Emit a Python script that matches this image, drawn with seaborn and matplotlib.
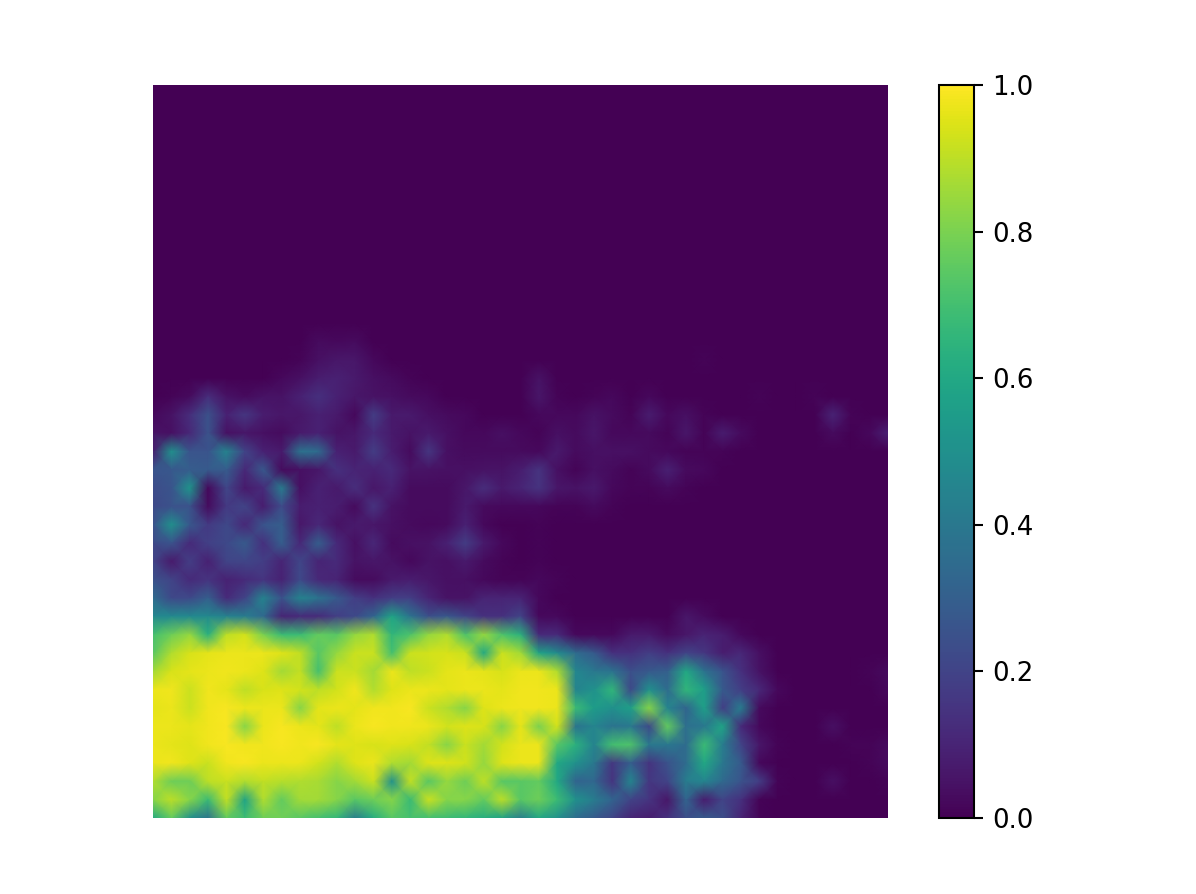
import numpy as np
import matplotlib
matplotlib.use("Agg")
import matplotlib.pyplot as plt
import seaborn as sns

# Values in hundredths. Rows 0-13 are all zero.
blank_rows = 14
left_half = [  # columns 0-20, rows 14-40
 [0,0,0,0,0,0,0,0,0,3,2,3,0,0,0,0,0,0,0,0,0],
 [0,0,0,0,0,0,0,0,1,4,6,6,2,0,0,0,0,0,0,0,0],
 [0,0,0,0,0,0,0,2,4,8,9,7,4,3,1,0,0,0,0,0,0],
 [0,1,3,13,5,3,5,5,9,14,9,6,5,4,3,2,0,0,0,0,0],
 [2,5,13,25,9,16,8,6,6,9,7,2,18,7,7,4,3,2,0,0,0],
 [5,4,11,25,4,6,4,3,7,9,5,6,12,7,5,7,4,2,2,4,2],
 [8,50,26,26,45,20,9,7,38,35,9,7,18,8,3,16,4,3,3,3,3],
 [26,27,29,28,29,11,27,3,4,6,14,10,9,12,5,5,4,4,5,5,8],
 [23,26,52,2,21,7,12,42,4,9,7,13,6,9,3,3,3,6,13,7,10],
 [22,25,25,3,17,20,8,23,8,9,8,3,15,5,3,3,3,7,3,2,2],
 [25,50,27,17,22,11,26,30,6,11,5,7,6,4,3,2,3,9,2,0,0],
 [22,26,12,19,22,28,14,30,11,30,12,4,11,3,4,5,9,18,7,2,0],
 [20,7,18,9,20,21,18,10,21,10,12,5,6,5,2,5,4,7,3,1,0],
 [25,20,12,15,9,12,15,9,22,11,10,3,3,7,8,6,4,4,2,1,1],
 [35,22,22,30,12,20,45,25,45,38,28,18,14,18,18,10,5,5,10,10,10],
 [47,47,47,47,44,42,34,10,12,12,18,22,32,58,38,24,27,20,14,14,20],
 [70,78,84,64,90,93,80,68,68,76,74,84,88,66,72,84,88,72,84,72,64],
 [74,88,94,96,97,97,97,95,91,74,84,92,92,70,92,93,94,92,60,92,86],
 [86,94,96,97,98,97,95,86,91,70,92,92,86,97,90,92,96,97,96,94,97],
 [97,98,92,98,96,90,94,95,93,90,93,98,88,95,97,97,96,97,97,96,98],
 [96,97,92,98,99,97,97,97,82,96,97,96,98,98,99,92,88,82,95,97,98],
 [97,97,96,98,99,82,97,99,97,96,90,97,99,98,98,97,93,95,94,82,96],
 [97,96,95,98,99,98,98,99,98,99,96,95,94,95,94,91,82,92,86,93,97],
 [97,98,95,92,98,99,97,97,97,93,88,95,97,88,86,95,95,93,84,95,97],
 [88,78,78,90,92,88,91,89,88,87,82,86,92,50,91,74,84,78,90,74,74],
 [82,90,82,68,91,58,88,76,86,86,82,74,78,82,68,92,82,82,76,90,74],
 [60,76,50,38,76,68,78,78,74,70,66,42,62,74,70,70,68,66,62,58,42],
]
right_half = [  # columns 21-40, rows 14-40
 [0,0,0,0,0,0,0,0,0,0,0,0,0,0,0,0,0,0,0,0],
 [0,0,0,0,0,0,0,0,0,1,0,0,0,0,0,0,0,0,0,0],
 [5,0,0,0,0,0,0,0,0,0,0,0,0,0,0,0,0,0,0,0],
 [6,1,0,1,2,0,2,0,0,0,0,0,1,0,0,1,0,0,0,0],
 [2,2,2,5,3,1,8,2,4,1,0,0,0,0,0,0,10,1,0,0],
 [1,4,3,6,2,2,3,1,6,1,8,3,0,0,0,0,3,0,2,9],
 [2,7,3,4,4,4,3,2,1,1,1,0,0,0,0,0,0,0,0,0],
 [15,4,1,4,3,1,3,9,3,2,0,0,0,0,0,0,0,0,0,0],
 [15,6,5,7,2,1,1,3,1,0,0,0,0,0,0,0,0,0,0,0],
 [2,1,1,3,1,0,0,0,0,0,0,0,0,0,0,0,0,0,0,0],
 [1,0,0,0,0,0,0,0,0,0,0,0,0,0,0,0,0,0,0,0],
 [1,0,0,0,0,0,0,0,0,0,0,0,0,0,0,0,0,0,0,0],
 [1,0,0,0,0,0,0,0,0,0,0,0,0,0,0,0,0,0,0,0],
 [2,1,0,0,0,0,0,0,0,0,0,0,0,0,0,0,0,0,0,0],
 [2,0,0,0,0,0,0,0,0,0,0,0,0,0,0,0,0,0,0,0],
 [2,2,0,0,0,0,0,0,6,3,0,0,0,0,0,0,0,0,0,0],
 [12,12,2,2,2,7,7,3,6,10,8,2,0,0,0,0,0,0,0,0],
 [58,48,35,28,14,14,18,14,20,16,8,11,4,0,0,0,0,0,0,0],
 [97,88,46,40,38,24,28,30,60,38,26,14,5,0,0,0,0,0,1,3],
 [98,97,45,50,66,22,50,35,66,56,28,18,11,2,0,0,0,0,0,2],
 [98,97,68,55,50,56,82,45,32,56,18,42,3,0,0,0,0,0,0,0],
 [80,93,38,45,38,40,22,76,36,40,58,12,2,0,0,0,4,0,0,0],
 [97,74,64,45,70,72,40,40,35,68,42,20,6,1,0,0,0,1,1,3],
 [97,60,50,40,16,30,15,25,35,60,40,28,2,0,0,0,0,0,1,3],
 [76,60,32,33,15,46,16,20,42,46,34,26,18,1,0,0,4,0,0,1],
 [78,68,50,42,32,20,15,6,32,8,20,14,1,0,0,0,0,0,0,0],
 [60,50,35,28,20,10,8,14,24,28,24,10,1,0,0,0,0,0,0,0],
]
colorbar_ticks = [0.0, 0.2, 0.4, 0.6, 0.8, 1.0]

values = np.vstack([np.zeros((blank_rows, 41)), np.hstack([np.array(left_half), np.array(right_half)])]) / 100

W, H = 1196, 894
fig = plt.figure(figsize=(6.4, 6.4 * H / W), dpi=W / 6.4)
ax = fig.add_axes([153 / W, 1 - 818 / H, (888 - 153) / W, (818 - 85) / H])
cax = fig.add_axes([939 / W, 1 - 818 / H, (974 - 939) / W, (818 - 85) / H])

sns.heatmap(values, ax=ax, cbar_ax=cax, cmap="viridis", vmin=0, vmax=1,
            xticklabels=False, yticklabels=False, square=False)

# Smooth shading over the same grid, vertices at the heatmap's cell centres
centres = np.arange(values.shape[0]) + 0.5
ax.pcolormesh(centres, centres, values, shading="gouraud", cmap="viridis", vmin=0, vmax=1)
ax.set_xlim(centres[0], centres[-1])
ax.set_ylim(centres[-1], centres[0])
ax.set_axis_off()

cbar = ax.collections[0].colorbar
cbar.set_ticks(colorbar_ticks)
cbar.outline.set_visible(True)
cbar.outline.set_linewidth(0.8)
cbar.outline.set_edgecolor("black")
cax.tick_params(labelsize=10, length=3.5, width=0.8, colors="black")

fig.savefig("out.png", dpi=W / 6.4)
